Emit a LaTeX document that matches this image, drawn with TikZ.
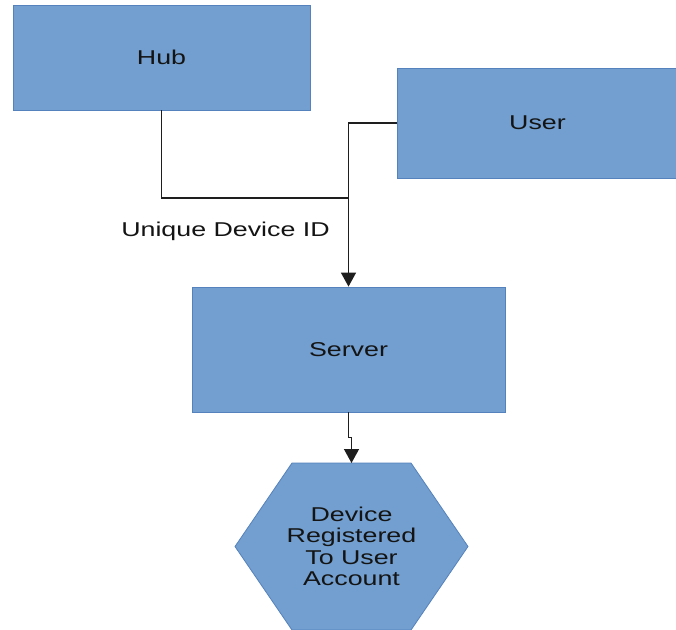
\documentclass[tikz,border=0pt]{standalone}
\usepackage{fontspec}
\setmainfont{Liberation Sans}[FakeStretch=1.34]
\usepackage{xcolor}
\usetikzlibrary{positioning,arrows.meta}

\definecolor{boxfill}{HTML}{729FCF}
\definecolor{boxline}{HTML}{5582BC}
\definecolor{txtcol}{HTML}{141414}
\definecolor{linecol}{HTML}{1E1E1E}

\tikzset{
    block/.style={draw=boxline, fill=boxfill, line width=0.8pt, inner sep=0pt,
        text=txtcol, font=\fontsize{20}{21.5}\selectfont},
    hexshape/.style={draw=boxline, fill=boxfill, line width=0.8pt, line join=miter},
    hextext/.style={inner sep=0pt, align=center, text=txtcol,
        font=\fontsize{20}{21.5}\selectfont},
    link/.style={draw=linecol, line width=1.3pt},
    tip/.style={-{Triangle[width=15pt,length=14pt]}},
    lbl/.style={inner sep=0pt, text=txtcol, font=\fontsize{20}{21.5}\selectfont}
}

\begin{document}
\begin{tikzpicture}[x=1pt, y=-1pt]
    \useasboundingbox (0,0) rectangle (676,629);
    \fill[white] (0,0) rectangle (676,629);

    \node[block, minimum width=297pt, minimum height=105pt] (hub) at (161.5,57.5) {Hub};
    \node[block, minimum width=281pt, minimum height=110pt] (user) at (537.5,123) {User};
    \node[block, minimum width=313pt, minimum height=125pt] (server) at (348.5,349.5) {Server};

    % hexagon
    \path[hexshape] (292,463) -- (411,463) -- (468,546.5) -- (411,630)
        -- (292,630) -- (235,546.5) -- cycle;
    \coordinate (regtop) at (351.5,463);
    \node[hextext] (reg) at (351.5,546.5) {Device\\Registered\\To User\\Account};

    \coordinate (join) at (348.5,198);
    \node[lbl, below left=24pt and 18.5pt of join] (uid) {Unique Device ID};

    \draw[link] (hub.south) |- (join);
    \draw[link, tip] (user.west) -| (server.north);
    \draw[link, tip] (server.south) -- ++(0,25) -| (regtop);
\end{tikzpicture}
\end{document}
